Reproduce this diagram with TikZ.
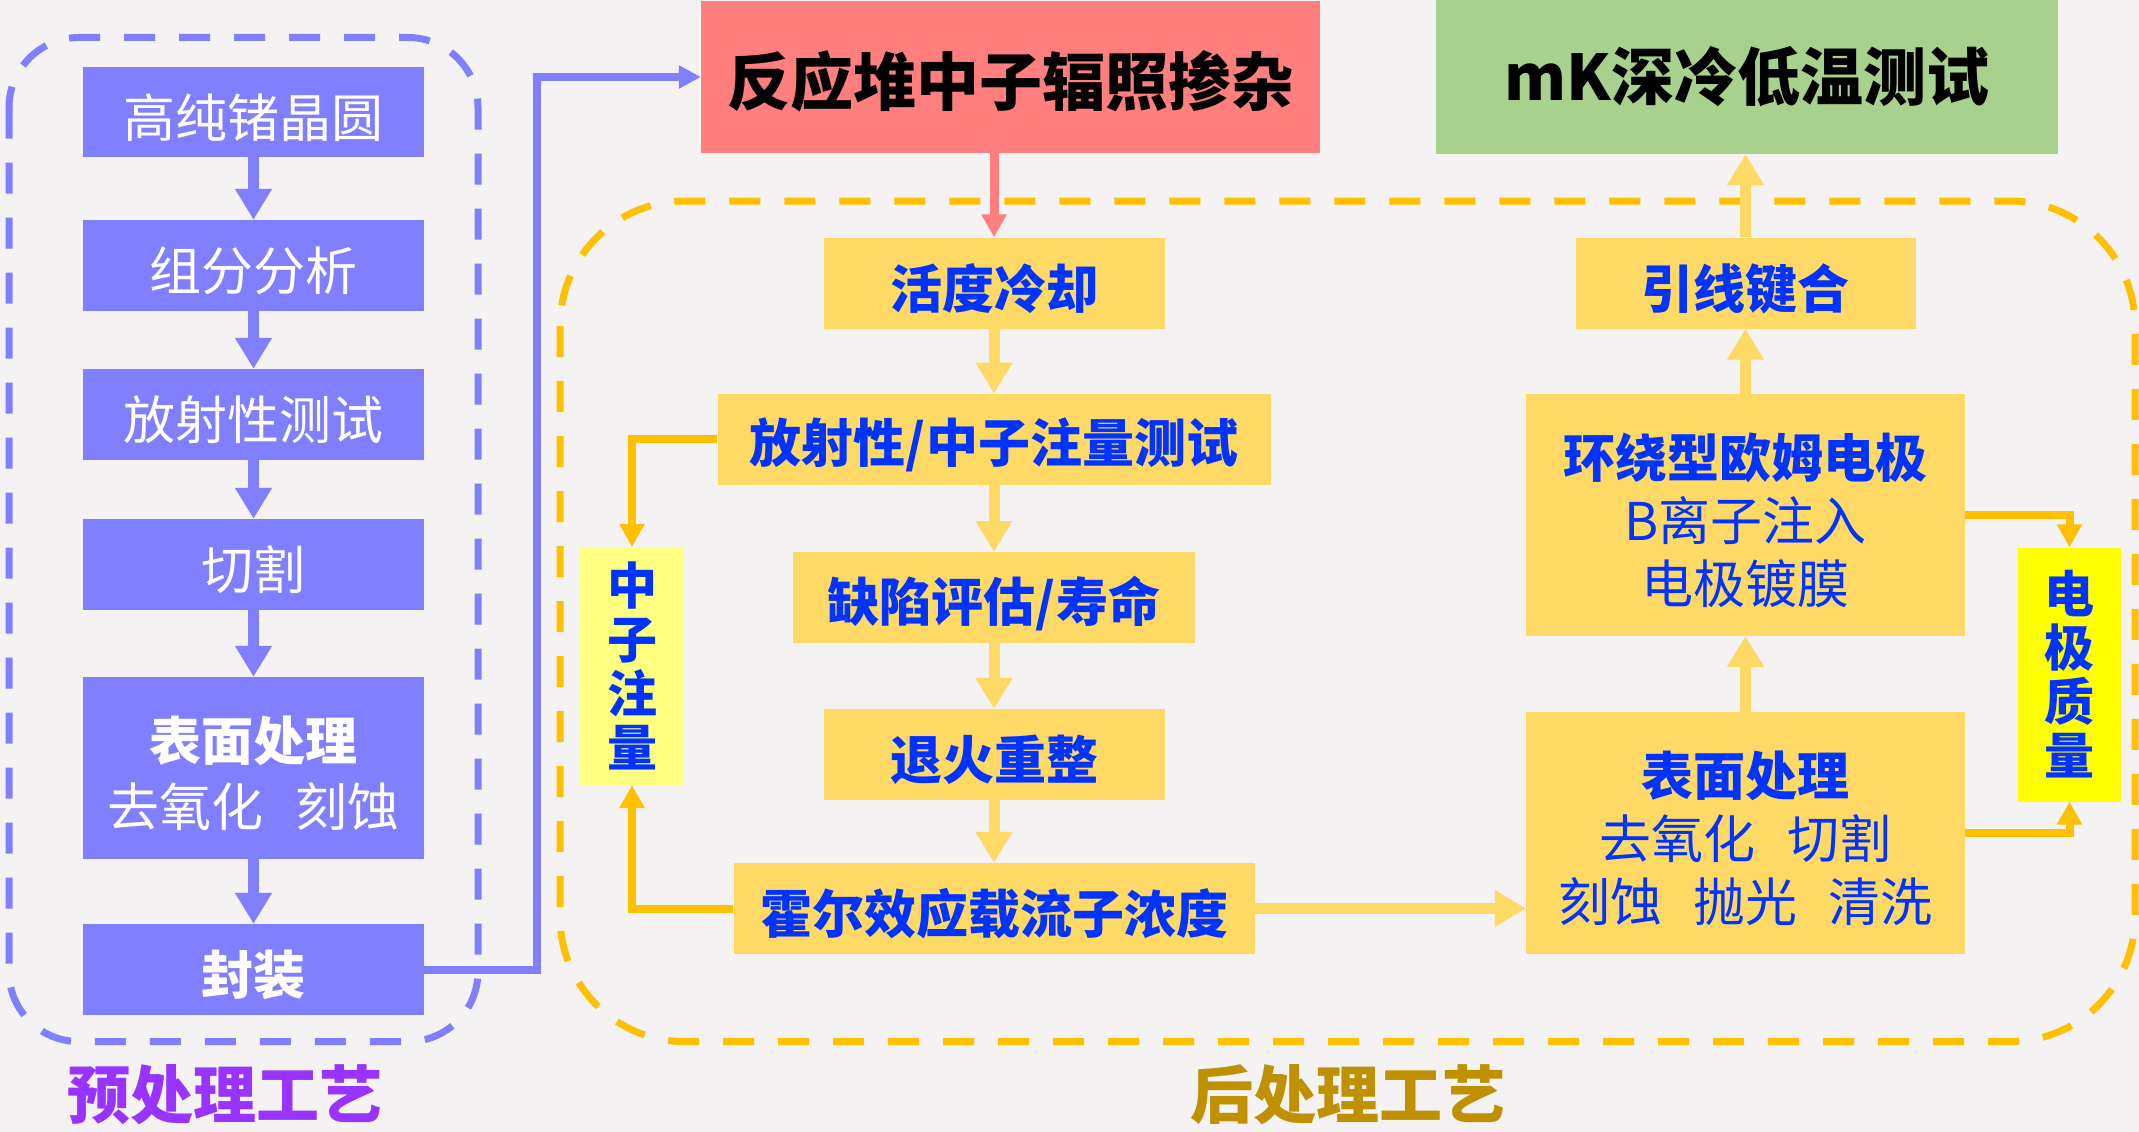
\documentclass[tikz,border=0pt]{standalone}
\usepackage{fontspec}
\setmainfont{Noto Sans CJK SC}
\usetikzlibrary{arrows.meta}
\definecolor{bgc}{HTML}{F4F2F2}
\definecolor{bfill}{HTML}{7F7FFF}
\definecolor{rfill}{HTML}{FF7F7F}
\definecolor{gfill}{HTML}{A9D18E}
\definecolor{yfill}{HTML}{FFD966}
\definecolor{lyfill}{HTML}{FFFF80}
\definecolor{byfill}{HTML}{FFFF00}
\definecolor{orng}{HTML}{FFC000}
\definecolor{tblue}{HTML}{0033FF}
\definecolor{purp}{HTML}{9933FF}
\definecolor{gold}{HTML}{BF9000}
\newcommand{\dn}[2][5.5pt]{\raisebox{-#1}[\height][\depth]{#2}}
\tikzset{
  box/.style={rectangle, inner sep=0pt, align=center},
  bluebox/.style={box, fill=bfill, text=white, font=\fontsize{52}{66}\selectfont},
  ybox/.style={box, fill=yfill, text=tblue, font=\fontsize{52}{63}\selectfont},
  yboxb/.style={ybox, font=\fontsize{52}{63}\selectfont\bfseries},
  vbox/.style={box, text=tblue, font=\fontsize{50}{54}\selectfont\bfseries},
  titlebox/.style={box, text=black, font=\fontsize{63}{70}\selectfont\bfseries},
  grouplabel/.style={font=\fontsize{63}{70}\selectfont\bfseries, inner sep=0pt},
  bigarrow/.style={line width=11pt, -{Triangle[length=31pt,width=35pt]}},
  thinarrow/.style={line width=8pt, -{Triangle[length=23pt,width=24pt]}},
  frame/.style={line width=7pt, dash pattern=on 31pt off 24pt},
}
\begin{document}
\begin{tikzpicture}[x=1pt,y=-1pt]
\fill[bgc] (0,0) rectangle (2139,1132);
\useasboundingbox (0,0) rectangle (2139,1132);

% frames
\draw[frame, bfill, rounded corners=70pt] (9,37.5) rectangle (478,1041.6);
\draw[frame, orng, rounded corners=125pt] (560,201) rectangle (2135,1041.6);

% left column
\node[bluebox, minimum width=341pt, minimum height=90pt] (b1) at (253.5,112) {\dn{高纯锗晶圆}};
\node[bluebox, minimum width=341pt, minimum height=91pt] (b2) at (253.5,265.5) {\dn{组分分析}};
\node[bluebox, minimum width=341pt, minimum height=91pt] (b3) at (253.5,414.5) {\dn{放射性测试}};
\node[bluebox, minimum width=341pt, minimum height=91pt] (b4) at (253.5,564.5) {\dn{切割}};
\node[bluebox, minimum width=341pt, minimum height=182pt] (b5) at (253.5,768) {\dn{\textbf{表面处理}}\\\dn{去氧化\hspace{0.6em}刻蚀}};
\node[bluebox, minimum width=341pt, minimum height=91pt] (b6) at (253.5,969.5) {\dn{\textbf{封装}}};

\foreach \a/\b in {b1/b2,b2/b3,b3/b4,b4/b5,b5/b6}
  \draw[bigarrow, bfill] (\a.south) -- (\b.north);

% top boxes
\node[box, fill=rfill, titlebox, minimum width=619pt, minimum height=152pt] (reactor) at (1010.5,77) {\dn[4pt]{反应堆中子辐照掺杂}};
\node[box, fill=gfill, titlebox, minimum width=622pt, minimum height=154pt] (mk) at (1747,77) {mK深冷低温测试};

% blue link
\coordinate (bl) at (537,77);
\draw[thinarrow, bfill, -{Triangle[length=22pt,width=22pt]}] (b6.east) -| (bl) -- (reactor.west);

% middle column
\node[yboxb, minimum width=341pt, minimum height=91pt] (y1) at (994,283) {\dn{活度冷却}};
\node[yboxb, minimum width=553pt, minimum height=91pt] (y2) at (994,439.3) {\dn{放射性/中子注量测试}};
\node[yboxb, minimum width=402pt, minimum height=91pt] (y3) at (994,597.7) {\dn{缺陷评估/寿命}};
\node[yboxb, minimum width=341pt, minimum height=91pt] (y4) at (994,754.5) {\dn{退火重整}};
\node[yboxb, minimum width=521pt, minimum height=91pt] (y5) at (994,908.5) {\dn{霍尔效应载流子浓度}};

\node[vbox, fill=lyfill, minimum width=104pt, minimum height=238pt] (nz) at (632,666) {中\\子\\注\\量};

\draw[thinarrow, rfill, -{Triangle[length=23pt,width=24pt]}, line width=9pt] (y1.north |- reactor.south) -- (y1.north);
\foreach \a/\b in {y1/y2,y2/y3,y3/y4,y4/y5}
  \draw[bigarrow, yfill] (\a.south) -- (\b.north);

\draw[thinarrow, orng] (y2.west) -| (nz.north);
\draw[thinarrow, orng] (y5.west) -| (nz.south);

% right column
\node[yboxb, minimum width=340pt, minimum height=91pt] (r1) at (1745.5,283) {\dn{引线键合}};
\node[ybox, minimum width=439pt, minimum height=241.5pt] (r2) at (1745.5,515) {\dn{\textbf{环绕型欧姆电极}}\\\dn{B离子注入}\\\dn{电极镀膜}};
\node[ybox, minimum width=439pt, minimum height=242pt] (r3) at (1745.5,833) {\dn{\textbf{表面处理}}\\\dn{去氧化\hspace{0.6em}切割}\\\dn{刻蚀\hspace{0.6em}抛光\hspace{0.6em}清洗}};
\node[vbox, fill=byfill, minimum width=103pt, minimum height=254pt] (eq) at (2069.5,674.5) {电\\极\\质\\量};

\draw[bigarrow, yfill] (y5.east) -- (y5.east -| r3.west);
\draw[bigarrow, yfill] (r3.north) -- (r2.south);
\draw[bigarrow, yfill] (r2.north) -- (r1.south);
\draw[bigarrow, yfill] (r1.north) -- (r1.north |- mk.south);

\draw[thinarrow, orng] (r2.east) -| (eq.north);
\draw[thinarrow, orng] (r3.east) -| (eq.south);

% group labels
\node[grouplabel, text=purp] (lpre) at (225,1095) {预处理工艺};
\node[grouplabel, text=gold] (lpost) at (1348,1095) {后处理工艺};
\end{tikzpicture}
\end{document}
